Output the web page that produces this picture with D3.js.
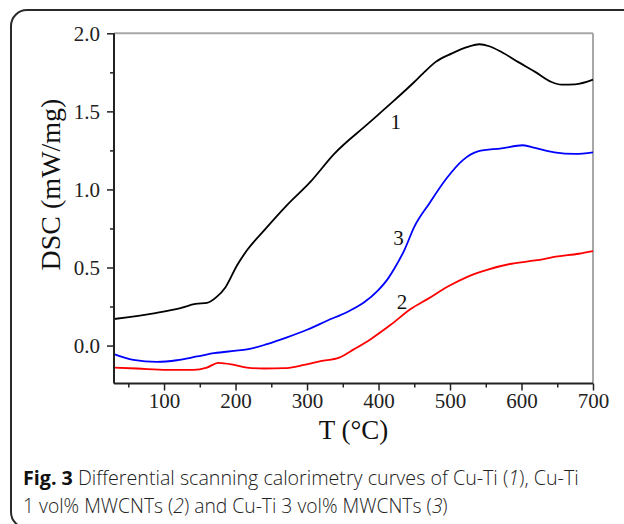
<!DOCTYPE html>
<html><head><meta charset="utf-8">
<script src="https://cdn.jsdelivr.net/npm/d3@7"></script>
<style>body{margin:0;background:#fff}svg{display:block}</style>
</head><body>
<svg id="c" width="624" height="524"></svg>
<script>
// Data
const tempC1 = [30,88,123,144,160,174,186,202,216,240,272,305,338,385,422,450,462,480,502,525,541,555,572,595,619,642,656,675,700];
const dsc1   = [0.17,0.208,0.24,0.267,0.273,0.313,0.374,0.513,0.61,0.738,0.9,1.05,1.228,1.42,1.57,1.688,1.742,1.817,1.87,1.913,1.93,1.917,1.88,1.817,1.753,1.688,1.671,1.673,1.703];
const tempC2 = [30,62,104,141,160,176,198,216,240,268,296,319,345,366,389,417,445,469,497,525,553,586,619,651,680,700];
const dsc2   = [-0.141,-0.147,-0.156,-0.156,-0.141,-0.111,-0.124,-0.141,-0.147,-0.145,-0.124,-0.1,-0.077,-0.023,0.041,0.133,0.234,0.299,0.378,0.442,0.487,0.524,0.545,0.571,0.588,0.605];
const tempC3 = [30,57,90,118,146,170,198,216,244,272,300,328,357,380,399,413,422,436,450,471,495,518,539,572,602,619,646,675,700];
const dsc3   = [-0.055,-0.092,-0.104,-0.094,-0.07,-0.049,-0.034,-0.025,0.009,0.052,0.101,0.159,0.217,0.277,0.352,0.427,0.492,0.61,0.76,0.91,1.07,1.188,1.244,1.263,1.283,1.266,1.238,1.228,1.238];
const xMajor = [100,200,300,400,500,600,700];
const xMinor = [50,150,250,350,450,550,650];
const yMajor = [0.0,0.5,1.0,1.5,2.0];
const yMinor = [0.25,0.75,1.25,1.75];
const curveLabels = ["1","2","3"];
const labelAt = [[424,1.39],[433,0.235],[428,0.643]];
const colors = ["#000000","#ff0000","#0000ff"];

const svg = d3.select("#c");
const L=114, R=593, T=33.3, B=383.5;
const x = d3.scaleLinear().domain([30,700]).range([L,R]);
const y = d3.scaleLinear().domain([-0.243,2.0]).range([B,T]);

// outer frame (bottom and right edges run off the page)
svg.append("rect").attr("x",11).attr("y",10).attr("width",640).attr("height",518)
  .attr("rx",16).attr("fill","none").attr("stroke","#2a2a2a").attr("stroke-width",2);

// top and right borders
svg.append("line").attr("x1",L).attr("x2",R).attr("y1",T).attr("y2",T).attr("stroke","#a8a8a8").attr("stroke-width",2);
svg.append("line").attr("x1",R).attr("x2",R).attr("y1",T).attr("y2",B).attr("stroke","#a8a8a8").attr("stroke-width",2);

// curves
const series = [[tempC1,dsc1],[tempC2,dsc2],[tempC3,dsc3]];
const line = d3.line().x(d=>x(d[0])).y(d=>y(d[1])).curve(d3.curveMonotoneX);
series.forEach((s,i)=>{
  const pts = s[0].map((t,j)=>[t,s[1][j]]);
  svg.append("path").datum(pts).attr("d",line).attr("fill","none")
    .attr("stroke",colors[i]).attr("stroke-width",1.8);
});

// axes
const xAxis = d3.axisBottom(x).tickValues(xMajor).tickSize(7).tickFormat(d3.format("d"));
const gx = svg.append("g").attr("transform",`translate(0,${B})`).call(xAxis);
gx.select(".domain").attr("stroke","#222").attr("stroke-width",2).attr("d",`M${L},0H${R}`);
gx.selectAll(".tick line").attr("stroke","#222").attr("stroke-width",1.5);
gx.selectAll(".tick text").attr("font-family","'Liberation Serif','Times New Roman',serif")
  .attr("font-size",21).attr("fill","#222").attr("y",10).attr("dy","0.71em");
const gxm = svg.append("g").attr("transform",`translate(0,${B})`)
  .call(d3.axisBottom(x).tickValues(xMinor).tickSize(4).tickFormat(""));
gxm.select(".domain").remove();
gxm.selectAll(".tick line").attr("stroke","#222").attr("stroke-width",1.5);

const yAxis = d3.axisLeft(y).tickValues(yMajor).tickSize(7).tickFormat(d3.format(".1f"));
const gy = svg.append("g").attr("transform",`translate(${L},0)`).call(yAxis);
gy.select(".domain").attr("stroke","#222").attr("stroke-width",2).attr("d",`M0,${T}V${B}`);
gy.selectAll(".tick line").attr("stroke","#222").attr("stroke-width",1.5);
gy.selectAll(".tick text").attr("font-family","'Liberation Serif','Times New Roman',serif")
  .attr("font-size",21).attr("fill","#222").attr("x",-14).attr("dy","0.34em");
const gym = svg.append("g").attr("transform",`translate(${L},0)`)
  .call(d3.axisLeft(y).tickValues(yMinor).tickSize(4).tickFormat(""));
gym.select(".domain").remove();
gym.selectAll(".tick line").attr("stroke","#222").attr("stroke-width",1.5);

// axis titles
svg.append("text").attr("transform","translate(60,184.5) rotate(-90)").attr("text-anchor","middle")
  .attr("font-family","'Liberation Serif','Times New Roman',serif").attr("font-size",28).attr("fill","#111")
  .text("DSC (mW/mg)");
svg.append("text").attr("x",(L+R)/2).attr("y",439).attr("text-anchor","middle")
  .attr("font-family","'Liberation Serif','Times New Roman',serif").attr("font-size",27).attr("fill","#111")
  .text("T (°C)");

// curve labels
curveLabels.forEach((t,i)=>{
  svg.append("text").attr("x",x(labelAt[i][0])).attr("y",y(labelAt[i][1])).attr("text-anchor","middle")
    .attr("font-family","'Liberation Serif','Times New Roman',serif").attr("font-size",21).attr("fill","#111")
    .text(t);
});

// caption
const cap = svg.append("g").attr("font-family","'Open Sans','Noto Sans',sans-serif").attr("fill","#222");
function capLine(yy, parts, target){
  const t = cap.append("text").attr("x",23).attr("y",yy).attr("font-size",20);
  parts.forEach(p=>{
    const ts = t.append("tspan").text(p[0]);
    if(p[1]==="b") ts.attr("font-weight",700).attr("fill","#111");
    else ts.attr("font-weight",300);
    if(p[1]==="i") ts.attr("font-style","italic");
  });
  const w = t.node().getComputedTextLength();
  t.attr("font-size", 20*target/w);
}
capLine(485, [["Fig. 3","b"],[" Differential scanning calorimetry curves of Cu-Ti (",""],["1","i"],["), Cu-Ti",""]], 556);
capLine(513, [["1 vol% MWCNTs (",""],["2","i"],[") and Cu-Ti 3 vol% MWCNTs (",""],["3","i"],[")",""]], 425);
</script>
</body></html>
